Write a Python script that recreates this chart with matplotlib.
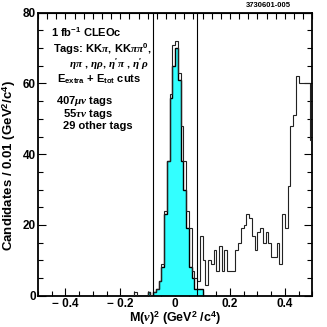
import numpy as np
import matplotlib
matplotlib.use('Agg')
import matplotlib.pyplot as plt
from matplotlib.ticker import MultipleLocator

plt.rcParams['font.family'] = ['Liberation Sans', 'DejaVu Sans']
plt.rcParams['font.weight'] = 'bold'
plt.rcParams['mathtext.fontset'] = 'custom'
plt.rcParams['mathtext.rm'] = 'Liberation Sans:bold'
plt.rcParams['mathtext.it'] = 'Liberation Serif:italic'
plt.rcParams['mathtext.bf'] = 'Liberation Sans:bold'

# histogram data: 0.01 wide bins starting at first_bin
bin_width = 0.01
first_bin = -0.15
total = [1, 0, 0, 0, 0, 1, 0, 1, 2, 4, 9, 24, 38, 57, 71, 72, 63, 48, 38, 24,
         19, 7, 5, 4, 17, 10, 3, 10, 9, 13, 7, 14, 7, 13, 7, 7, 7, 13, 15, 19,
         20, 23, 22, 17, 13, 18, 19, 15, 18, 15, 11, 11, 15, 9, 23, 19, 31, 48, 51, 62,
         60, 60, 60, 60, 44]
mu_nu = [0, 0, 0, 0, 0, 1, 0, 1, 2, 4, 8, 23, 38, 56, 65, 70, 61, 38, 30, 19,
         8, 5, 2, 2, 2]
cut_lines = [-0.08, 0.08]

edges_tot = first_bin + bin_width * np.arange(len(total) + 1)
edges_mu = first_bin + bin_width * np.arange(len(mu_nu) + 1)

fig = plt.figure(figsize=(3.27, 3.27), dpi=100)
ax = fig.add_axes([0.116, 0.096, 0.839, 0.865])

ax.stairs(mu_nu, edges_mu, fill=True, color='#33ffff', zorder=2)
ax.stairs(mu_nu, edges_mu, color='black', linewidth=1.0, zorder=3)
ax.stairs(total, edges_tot, color='#222222', linewidth=0.8, zorder=4)
for x in cut_lines:
    ax.plot([x, x], [0, 80], color='black', linewidth=0.8, zorder=5)

ax.set_xlim(-0.5, 0.5)
ax.set_ylim(0, 80)
ax.set_xticks([-0.4, -0.2, 0, 0.2, 0.4])
ax.set_xticklabels(['\u2212 0.4', '\u2212 0.2', '0', '0.2', '0.4'], fontweight='bold')
ax.xaxis.set_minor_locator(MultipleLocator(0.05))
ax.yaxis.set_major_locator(MultipleLocator(20))
ax.yaxis.set_minor_locator(MultipleLocator(5))
ax.tick_params(which='both', direction='in', right=True, top=False, width=0.8)
ax.tick_params(which='major', length=6, labelsize=8.5, pad=1.5)
ax.tick_params(which='minor', length=3.5)
for lab in ax.get_yticklabels():
    lab.set_fontweight('bold')

top = ax.secondary_xaxis('top')
top.xaxis.set_major_locator(MultipleLocator(1 / 30))
top.tick_params(direction='in', length=4, width=0.8, labeltop=False)

for s in ax.spines.values():
    s.set_linewidth(1.3)

ax.set_xlabel(r'M($\nu$)$^2$ (GeV$^2$ /c$^4$)', fontsize=9, fontweight='bold', labelpad=0)
ax.set_ylabel(r'Candidates / 0.01 (GeV$^2$/c$^4$)', fontsize=9.5, fontweight='bold')
ax.yaxis.set_label_coords(-0.072, 0.46)

fs = 8
ax.text(-0.451, 73.1, r'1 fb$^{-1}$ CLEOc', fontsize=fs, va='baseline')
ax.text(-0.445, 68.6, r'Tags: KK$\mathit{\pi}$, KK$\mathit{\pi\pi}^0$,', fontsize=fs, va='baseline')
ax.text(-0.385, 64.5, r"$\eta\pi$ , $\eta\rho$, $\eta'\pi$ , $\eta'\rho$", fontsize=fs, va='baseline')
ax.text(-0.43, 60.2, r'E$_{\rm extra}$ + E$_{\rm tot}$ cuts', fontsize=fs, va='baseline')
ax.text(-0.433, 54.2, r'407$\mu\nu$ tags', fontsize=fs, va='baseline')
ax.text(-0.41, 50.6, r'55$\tau\nu$ tags', fontsize=fs, va='baseline')
ax.text(-0.41, 47.2, '29 other tags', fontsize=fs, va='baseline')

fig.text(0.82, 0.983, '3730601-005', fontsize=5.5, ha='center', va='center', fontweight='bold')

fig.savefig('out.png', dpi=100)
